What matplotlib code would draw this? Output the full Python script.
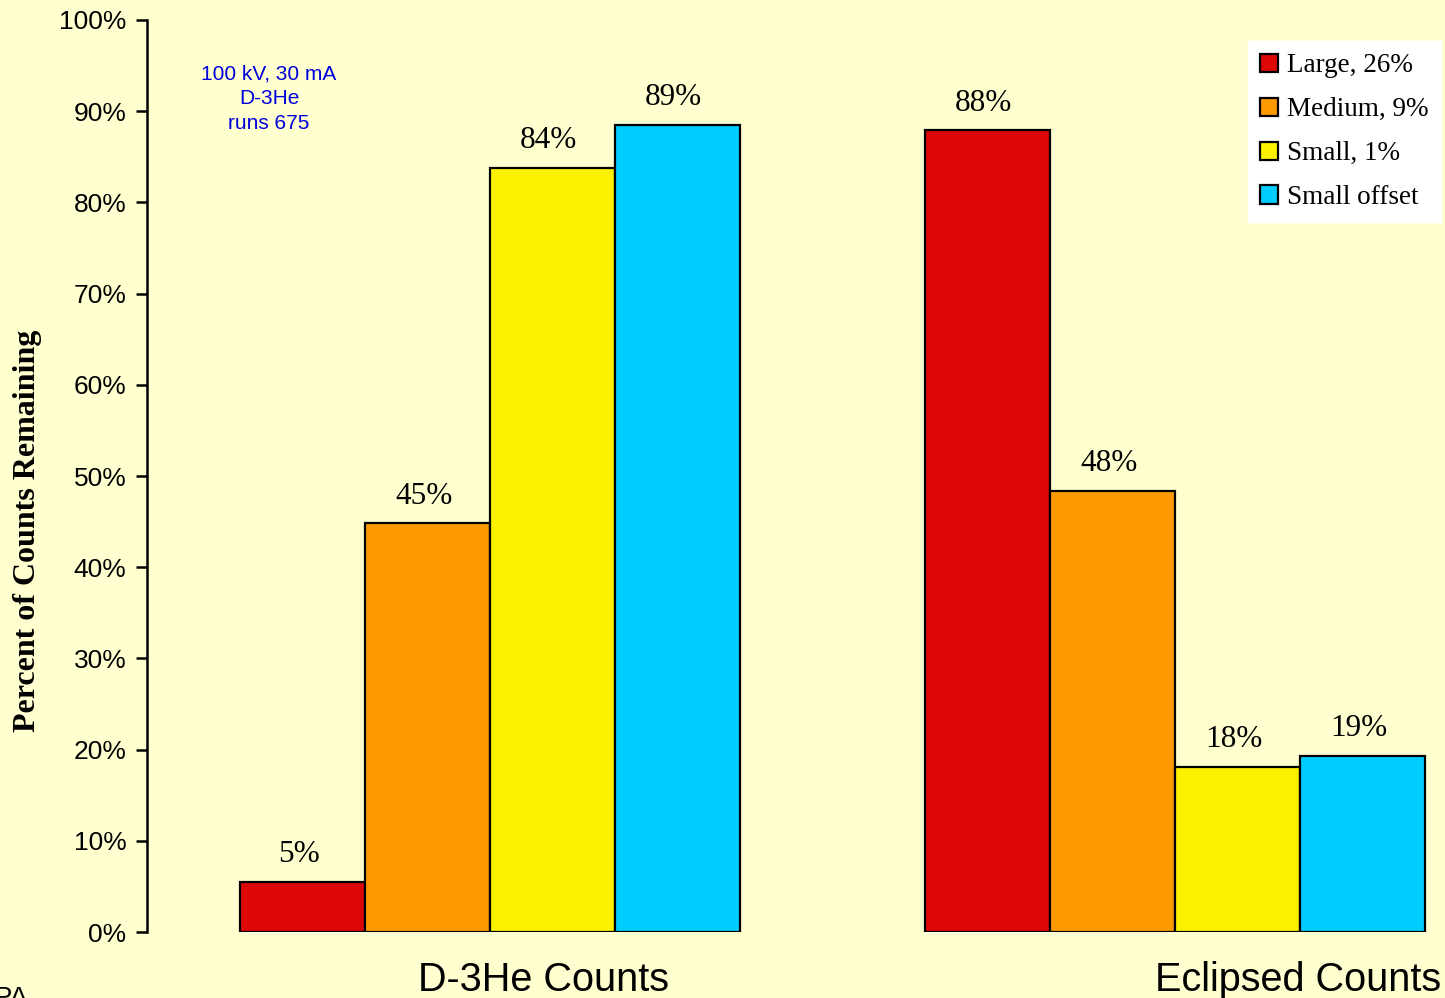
import matplotlib.pyplot as plt
import numpy as np

# data
groups = ["D-3He Counts", "Eclipsed Counts"]
series = ["Large, 26%", "Medium, 9%", "Small, 1%", "Small offset"]
d3he_counts = [5.5, 44.8, 83.8, 88.5]
eclipsed_counts = [87.9, 48.4, 18.1, 19.3]
bar_labels_d3he = ["5%", "45%", "84%", "89%"]
bar_labels_eclipsed = ["88%", "48%", "18%", "19%"]
colors = ["#DD0806", "#FF9900", "#FCF200", "#00CCFF"]

bg = "#FFFFD0"
fig = plt.figure(figsize=(14.45, 9.98), dpi=100, facecolor=bg)
ax = fig.add_axes([147 / 1445, 66 / 998, 1298 / 1445, 912 / 998], facecolor=bg)

# bar width = 1 unit (125 px); group starts in bar units
group_start = [0.744, 6.224]
values = [d3he_counts, eclipsed_counts]
labels = [bar_labels_d3he, bar_labels_eclipsed]

for g in range(2):
    for i in range(4):
        x = group_start[g] + i + 0.5
        ax.bar(x, values[g][i], width=1.0, color=colors[i], edgecolor="black",
               linewidth=1.6, label=series[i] if g == 0 else None, zorder=2)
        ax.text(x - 0.03, values[g][i] + 1.4, labels[g][i], ha="center", va="bottom",
                fontsize=22.5, family="Liberation Serif")

ax.set_xlim(0, 1298 / 125)
ax.set_ylim(0, 100)
ax.set_yticks(np.arange(0, 101, 10))
ax.set_yticklabels([f"{v}%" for v in range(0, 101, 10)], fontsize=19,
                   family="Liberation Sans")
ax.tick_params(axis="y", length=8, width=1.8, pad=6.8, direction="out")
ax.set_xticks([])
for s in ["top", "right", "bottom"]:
    ax.spines[s].set_visible(False)
ax.spines["left"].set_linewidth(1.8)

ax.set_ylabel("Percent of Counts Remaining", fontsize=23, fontweight="bold",
              family="Liberation Serif")
ax.yaxis.set_label_coords(-0.081, 0.44)

# category labels below the groups
trans = ax.get_xaxis_transform()
ax.text((543 - 147) / 125, -0.053, groups[0], transform=trans, ha="center",
        va="center", fontsize=28.5, family="Liberation Sans", clip_on=False)
ax.text((1298 - 147) / 125, -0.053, groups[1], transform=trans, ha="center",
        va="center", fontsize=28.5, family="Liberation Sans", clip_on=False)

# run annotation
ax.text((269 - 147) / 125, 91.4, "100 kV, 30 mA\nD-3He\nruns 675", ha="center",
        va="center", color="#0000DD", fontsize=15, family="Liberation Sans",
        linespacing=1.38)

leg = ax.legend(loc="upper left", bbox_to_anchor=((1248 - 147) / 1298, 0.977),
                prop={"family": "Liberation Serif", "size": 19.5},
                frameon=True, fancybox=False, edgecolor="white",
                handlelength=0.65, handleheight=0.65, handletextpad=0.35,
                labelspacing=0.7, borderpad=0.45, borderaxespad=0)
leg.get_frame().set_facecolor("white")
leg.get_frame().set_alpha(1)

fig.text(-0.004, -0.014, "PA", fontsize=20, family="Liberation Sans", va="bottom")

fig.savefig("out.png", dpi=100, facecolor=bg)
